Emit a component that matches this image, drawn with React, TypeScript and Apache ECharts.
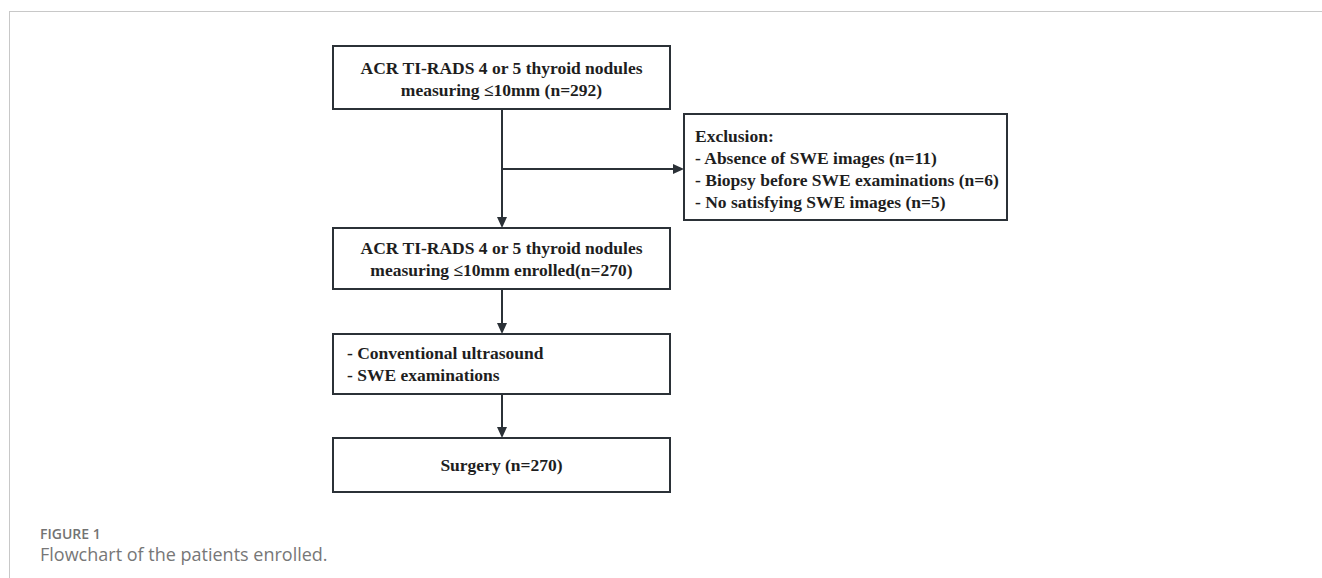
import React, { useEffect, useRef } from "react";
import * as echarts from "echarts";

// ---- content ----
const box1Lines = ["ACR TI-RADS 4 or 5 thyroid nodules", "measuring ≤10mm (n=292)"];
const exclusionLines = [
  "Exclusion:",
  "- Absence of SWE images (n=11)",
  "- Biopsy before SWE examinations (n=6)",
  "- No satisfying SWE images (n=5)",
];
const box2Lines = ["ACR TI-RADS 4 or 5 thyroid nodules", "measuring ≤10mm enrolled(n=270)"];
const box3Lines = ["- Conventional ultrasound", "- SWE examinations"];
const box4Lines = ["Surgery (n=270)"];
const captionTitle = "FIGURE 1";
const captionText = "Flowchart of the patients enrolled.";

// ---- layout ----
const W = 1322;
const H = 578;
const CX = 502;
const LINE_H = 22;
const BORDER = "#2b3137";
const TEXT = "#1e1e1e";
const FONT = "'Liberation Serif', 'Times New Roman', serif";

type Box = { x: number; y: number; w: number; h: number; lines: string[]; align: "center" | "left"; tx?: number; ty: number };

const boxes: Box[] = [
  { x: 333, y: 46, w: 337, h: 63, lines: box1Lines, align: "center", ty: 68 },
  { x: 684, y: 114, w: 323, h: 106, lines: exclusionLines, align: "left", tx: 695, ty: 136 },
  { x: 333, y: 228, w: 337, h: 61, lines: box2Lines, align: "center", ty: 248 },
  { x: 333, y: 334, w: 337, h: 60, lines: box3Lines, align: "left", tx: 347, ty: 353 },
  { x: 333, y: 438, w: 337, h: 54, lines: box4Lines, align: "center", ty: 465 },
];

function arrowDown(x: number, y1: number, y2: number): any[] {
  return [
    { type: "line", shape: { x1: x, y1, x2: x, y2: y2 - 9 }, style: { stroke: BORDER, lineWidth: 2 } },
    { type: "polygon", shape: { points: [[x - 5, y2 - 11], [x + 5, y2 - 11], [x, y2]] }, style: { fill: BORDER } },
  ];
}
function arrowRight(x1: number, x2: number, y: number): any[] {
  return [
    { type: "line", shape: { x1, y1: y, x2: x2 - 9, y2: y }, style: { stroke: BORDER, lineWidth: 2 } },
    { type: "polygon", shape: { points: [[x2 - 11, y - 5], [x2 - 11, y + 5], [x2, y]] }, style: { fill: BORDER } },
  ];
}

export default function App() {
  const ref = useRef<HTMLDivElement>(null);
  useEffect(() => {
    if (!ref.current) return;
    const chart = echarts.init(ref.current, undefined, { renderer: "svg" });
    const elements: any[] = [];
    // frame
    elements.push({ type: "line", shape: { x1: 9, y1: 11.5, x2: W, y2: 11.5 }, style: { stroke: "#c8c8c8", lineWidth: 1 } });
    elements.push({ type: "line", shape: { x1: 9.5, y1: 11, x2: 9.5, y2: H }, style: { stroke: "#c8c8c8", lineWidth: 1 } });

    boxes.forEach((b) => {
      elements.push({
        type: "rect",
        shape: { x: b.x, y: b.y, width: b.w, height: b.h },
        style: { fill: "#ffffff", stroke: BORDER, lineWidth: 2 },
      });
      b.lines.forEach((t, i) => {
        elements.push({
          type: "text",
          x: b.align === "center" ? b.x + b.w / 2 : (b.tx as number),
          y: b.ty + i * LINE_H,
          style: {
            text: t,
            fill: TEXT,
            font: `bold 17.5px ${FONT}`,
            align: b.align,
            verticalAlign: "middle",
          },
        });
      });
    });

    elements.push(...arrowDown(CX, 109, 228));
    elements.push(...arrowRight(CX, 684, 169));
    elements.push(...arrowDown(CX, 289, 334));
    elements.push(...arrowDown(CX, 394, 438));

    elements.push({
      type: "text",
      x: 40,
      y: 533,
      style: { text: captionTitle, fill: "#737373", font: "600 14px 'Open Sans', sans-serif", align: "left", verticalAlign: "middle" },
    });
    elements.push({
      type: "text",
      x: 40,
      y: 554,
      style: { text: captionText, fill: "#777777", font: "18px 'Open Sans', sans-serif", align: "left", verticalAlign: "middle" },
    });

    chart.setOption({ animation: false, graphic: { elements } });
    return () => chart.dispose();
  }, []);
  return <div ref={ref} style={{ position: "fixed", left: 0, top: 0, width: W, height: H, background: "#fff" }} />;
}
